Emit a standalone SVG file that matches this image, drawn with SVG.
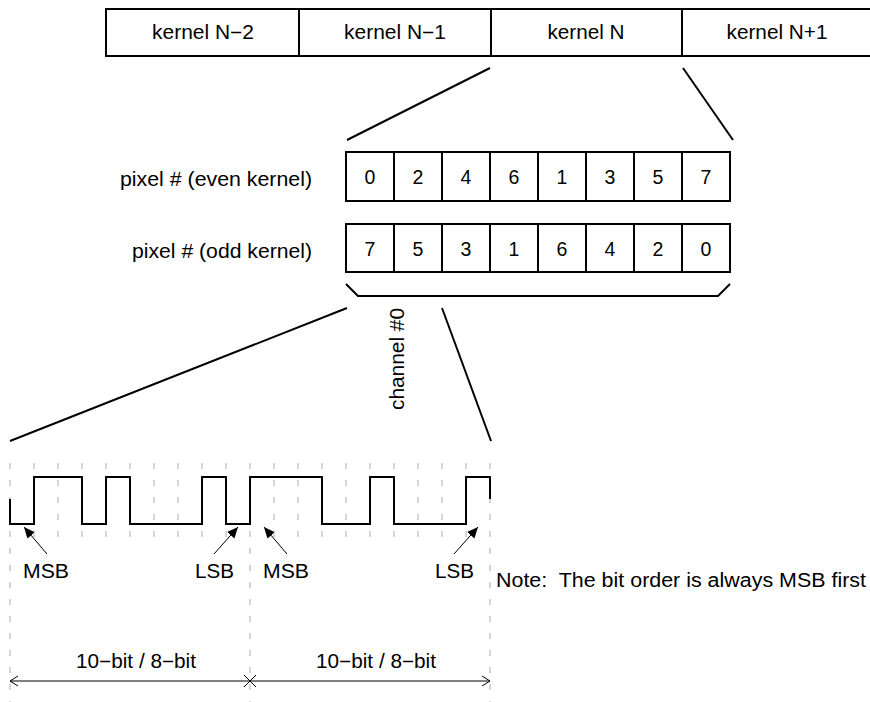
<svg xmlns="http://www.w3.org/2000/svg" width="870" height="702" viewBox="0 0 870 702">
<style>
text{font-family:"Liberation Sans",Arial,Helvetica,sans-serif;font-size:19.5px;fill:#000}
.c{text-anchor:middle}
.e{text-anchor:end}
.box{fill:#fff;stroke:#000;stroke-width:2}
.ln{fill:none;stroke:#000;stroke-width:2}
.thin{fill:none;stroke:#000;stroke-width:1}
.grid{stroke:#aaa;stroke-width:1;stroke-dasharray:6 11}
</style>
<defs>
<marker id="ah" viewBox="0 0 10 10" refX="10" refY="5" markerWidth="11" markerHeight="11" markerUnits="userSpaceOnUse" orient="auto">
<path d="M0,0.5 L10,5 L0,9.5 Z" fill="#000"/>
</marker>
</defs>
<rect width="870" height="702" fill="#fff"/>

<g id="kernels">
<g id="kernel-n-2"><rect class="box" x="106" y="9" width="193" height="47"/><text class="c" x="203" y="39" textLength="102" lengthAdjust="spacingAndGlyphs">kernel N−2</text></g>
<g id="kernel-n-1"><rect class="box" x="299" y="9" width="192" height="47"/><text class="c" x="395" y="39" textLength="102" lengthAdjust="spacingAndGlyphs">kernel N−1</text></g>
<g id="kernel-n"><rect class="box" x="491" y="9" width="191" height="47"/><text class="c" x="586" y="39" textLength="77" lengthAdjust="spacingAndGlyphs">kernel N</text></g>
<g id="kernel-n+1"><rect class="box" x="682" y="9" width="200" height="47"/><text class="c" x="777" y="39" textLength="101" lengthAdjust="spacingAndGlyphs">kernel N+1</text></g>
</g>

<g id="even-row">
<text class="e" x="312" y="186" textLength="192" lengthAdjust="spacingAndGlyphs">pixel # (even kernel)</text>
<rect class="box" x="346" y="152" width="48" height="49"/><text class="c" x="370" y="184">0</text>
<rect class="box" x="394" y="152" width="48" height="49"/><text class="c" x="418" y="184">2</text>
<rect class="box" x="442" y="152" width="48" height="49"/><text class="c" x="466" y="184">4</text>
<rect class="box" x="490" y="152" width="48" height="49"/><text class="c" x="514" y="184">6</text>
<rect class="box" x="538" y="152" width="48" height="49"/><text class="c" x="562" y="184">1</text>
<rect class="box" x="586" y="152" width="48" height="49"/><text class="c" x="610" y="184">3</text>
<rect class="box" x="634" y="152" width="48" height="49"/><text class="c" x="658" y="184">5</text>
<rect class="box" x="682" y="152" width="48" height="49"/><text class="c" x="706" y="184">7</text>
</g>

<g id="odd-row">
<text class="e" x="312" y="258" textLength="180" lengthAdjust="spacingAndGlyphs">pixel # (odd kernel)</text>
<rect class="box" x="346" y="224" width="48" height="48"/><text class="c" x="370" y="256">7</text>
<rect class="box" x="394" y="224" width="48" height="48"/><text class="c" x="418" y="256">5</text>
<rect class="box" x="442" y="224" width="48" height="48"/><text class="c" x="466" y="256">3</text>
<rect class="box" x="490" y="224" width="48" height="48"/><text class="c" x="514" y="256">1</text>
<rect class="box" x="538" y="224" width="48" height="48"/><text class="c" x="562" y="256">6</text>
<rect class="box" x="586" y="224" width="48" height="48"/><text class="c" x="610" y="256">4</text>
<rect class="box" x="634" y="224" width="48" height="48"/><text class="c" x="658" y="256">2</text>
<rect class="box" x="682" y="224" width="48" height="48"/><text class="c" x="706" y="256">0</text>
</g>

<g id="channel">
<path class="ln" d="M346,284 L358,296 H718 L730,284"/>
<text class="c" transform="translate(404,359) rotate(-90)" x="0" y="0" textLength="102" lengthAdjust="spacingAndGlyphs">channel #0</text>
</g>

<g id="connectors">
<line class="ln" x1="490" y1="68" x2="347" y2="140"/>
<line class="ln" x1="683" y1="68" x2="733" y2="140"/>
<line class="ln" x1="347" y1="308" x2="10" y2="441"/>
<line class="ln" x1="442" y1="308" x2="491" y2="441"/>
</g>

<g id="grid">
<line class="grid" x1="10" y1="463" x2="10" y2="702"/>
<line class="grid" x1="34" y1="463" x2="34" y2="540"/>
<line class="grid" x1="58" y1="463" x2="58" y2="540"/>
<line class="grid" x1="82" y1="463" x2="82" y2="540"/>
<line class="grid" x1="106" y1="463" x2="106" y2="540"/>
<line class="grid" x1="130" y1="463" x2="130" y2="540"/>
<line class="grid" x1="154" y1="463" x2="154" y2="540"/>
<line class="grid" x1="178" y1="463" x2="178" y2="540"/>
<line class="grid" x1="202" y1="463" x2="202" y2="540"/>
<line class="grid" x1="226" y1="463" x2="226" y2="540"/>
<line class="grid" x1="250" y1="463" x2="250" y2="702"/>
<line class="grid" x1="274" y1="463" x2="274" y2="540"/>
<line class="grid" x1="298" y1="463" x2="298" y2="540"/>
<line class="grid" x1="322" y1="463" x2="322" y2="540"/>
<line class="grid" x1="346" y1="463" x2="346" y2="540"/>
<line class="grid" x1="370" y1="463" x2="370" y2="540"/>
<line class="grid" x1="394" y1="463" x2="394" y2="540"/>
<line class="grid" x1="418" y1="463" x2="418" y2="540"/>
<line class="grid" x1="442" y1="463" x2="442" y2="540"/>
<line class="grid" x1="466" y1="463" x2="466" y2="540"/>
<line class="grid" x1="490" y1="463" x2="490" y2="702"/>
</g>

<g id="waveform">
<path class="ln" d="M10,499 V524 H34 V477 H82 V524 H106 V477 H130 V524 H202 V477 H226 V524 H250 V477 H322 V524 H370 V477 H394 V524 H466 V477 H490 V499"/>
</g>

<g id="bit-arrows">
<line class="thin" x1="47" y1="554" x2="24" y2="527" marker-end="url(#ah)"/>
<line class="thin" x1="214" y1="554" x2="238" y2="527" marker-end="url(#ah)"/>
<line class="thin" x1="287" y1="554" x2="264" y2="527" marker-end="url(#ah)"/>
<line class="thin" x1="454" y1="554" x2="478" y2="527" marker-end="url(#ah)"/>
<text x="23" y="578" textLength="46" lengthAdjust="spacingAndGlyphs">MSB</text>
<text x="195" y="578" textLength="39" lengthAdjust="spacingAndGlyphs">LSB</text>
<text x="263" y="578" textLength="46" lengthAdjust="spacingAndGlyphs">MSB</text>
<text x="435" y="578" textLength="39" lengthAdjust="spacingAndGlyphs">LSB</text>
</g>

<g id="dimension">
<line class="thin" x1="10" y1="681" x2="490" y2="681"/>
<path class="thin" d="M18,676 L10,681 L18,686 M482,676 L490,681 L482,686 M244,675 L256,687 M244,687 L256,675"/>
<text class="c" x="136" y="668" textLength="120" lengthAdjust="spacingAndGlyphs">10−bit / 8−bit</text>
<text class="c" x="376" y="668" textLength="120" lengthAdjust="spacingAndGlyphs">10−bit / 8−bit</text>
</g>

<g id="note">
<text x="496" y="587" textLength="370" lengthAdjust="spacingAndGlyphs" xml:space="preserve">Note:  The bit order is always MSB first</text>
</g>
</svg>
